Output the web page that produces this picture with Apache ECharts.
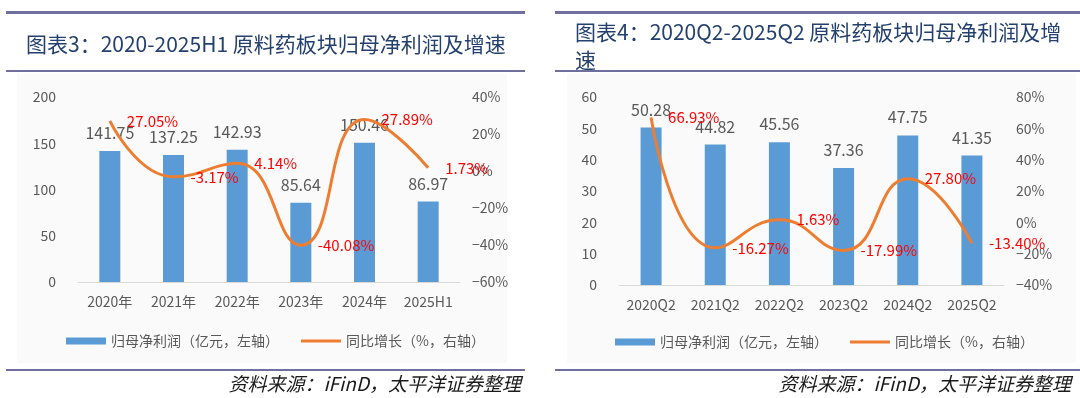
<!DOCTYPE html>
<html><head><meta charset="utf-8">
<script src="https://cdn.jsdelivr.net/npm/echarts@6/dist/echarts.min.js"></script>
<style>
html,body{margin:0;padding:0;background:#fff;}
#c1{position:absolute;left:0;top:0;width:540px;height:398px;}
#c2{position:absolute;left:540px;top:0;width:540px;height:398px;}
</style></head><body>
<div id="c1"></div><div id="c2"></div>
<script>
// ---- data ----
const categories1 = ['2020年', '2021年', '2022年', '2023年', '2024年', '2025H1'];
const profit1 = [141.75, 137.25, 142.93, 85.64, 150.46, 86.97];
const growth1 = [27.05, -3.17, 4.14, -40.08, 27.89, 1.73];

const categories2 = ['2020Q2', '2021Q2', '2022Q2', '2023Q2', '2024Q2', '2025Q2'];
const profit2 = [50.28, 44.82, 45.56, 37.36, 47.75, 41.35];
const growth2 = [66.93, -16.27, 1.63, -17.99, 27.80, -13.40];

const title1 = '图表3：2020-2025H1 原料药板块归母净利润及增速';
const title2 = '图表4：2020Q2-2025Q2 原料药板块归母净利润及增\n速';
const barName = '归母净利润（亿元，左轴）';
const lineName = '同比增长（%，右轴）';
const sourceText = '资料来源：iFinD，太平洋证券整理';

const leftTicks1 = {min: 0, max: 200, interval: 50};
const rightTicks1 = {min: -60, max: 40, interval: 20};
const leftTicks2 = {min: 0, max: 60, interval: 10};
const rightTicks2 = {min: -40, max: 80, interval: 20};

// ---- builder ----
const FONT = '"Noto Sans CJK SC", "Noto Sans", sans-serif';
const RULE = '#6f6f9e';
function pct(v) { return (v < 0 ? '\u2212' + Math.abs(v) : v) + '%'; }

function makeOption(p) {
  return {
    animation: false,
    textStyle: {fontFamily: FONT},
    title: {
      text: p.title, left: p.titleLeft, top: p.titleTop,
      textStyle: {fontFamily: FONT, fontSize: 21, fontWeight: 'normal', color: '#24406e', lineHeight: 28}
    },
    legend: {
      left: p.legendLeft, top: p.legendTop, itemWidth: 40, itemHeight: 7, itemGap: 22,
      textStyle: {fontFamily: FONT, fontSize: 14, color: '#595959'},
      data: [{name: barName, icon: 'rect'}, {name: lineName, icon: 'path://M0,0H40V3H0Z'}]
    },
    grid: {left: p.gridLeft, right: p.gridRight, top: p.gridTop, bottom: p.gridBottom},
    xAxis: {
      type: 'category', data: p.categories,
      axisLine: {lineStyle: {color: '#d9d9d9', width: 1}},
      axisTick: {show: false},
      axisLabel: {color: '#595959', fontSize: 14, margin: 13, interval: 0, fontFamily: FONT}
    },
    yAxis: [
      Object.assign({type: 'value', splitLine: {show: false}, axisLine: {show: false}, axisTick: {show: false},
        axisLabel: {color: '#595959', fontSize: 14, margin: 22, fontFamily: FONT}}, p.leftTicks),
      Object.assign({type: 'value', splitLine: {show: false}, axisLine: {show: false}, axisTick: {show: false},
        axisLabel: {color: '#595959', fontSize: 14, margin: 12, fontFamily: FONT, formatter: pct}}, p.rightTicks)
    ],
    series: [
      {
        name: barName, type: 'bar', data: p.profit, barWidth: 21, z: 1,
        itemStyle: {color: '#5b9bd5'},
        label: {show: true, position: 'top', distance: 10, color: '#595959', fontSize: 16, fontFamily: FONT,
          formatter: d => d.value.toFixed(2)}
      },
      {
        name: lineName, type: 'line', yAxisIndex: 1, data: p.growth, smooth: 0.5, z: 3,
        symbol: 'circle', symbolSize: 0,
        lineStyle: {width: 3, color: '#ed7d31'}, itemStyle: {color: '#ed7d31'},
        label: {show: true, position: 'right', distance: 17, color: '#ff0000', fontSize: 15, fontFamily: FONT,
          formatter: d => d.value.toFixed(2) + '%'}
      }
    ],
    graphic: [
      {type: 'rect', z: -10, shape: {x: p.bgX1, y: 74, width: p.bgX2 - p.bgX1, height: 289}, style: {fill: '#fafafa'}},
      {type: 'line', shape: {x1: p.ruleX1, y1: 12.5, x2: p.ruleX2, y2: 12.5}, style: {stroke: RULE, lineWidth: 3}},
      {type: 'line', shape: {x1: p.ruleX1, y1: 71, x2: p.ruleX2, y2: 71}, style: {stroke: RULE, lineWidth: 2}},
      {type: 'line', shape: {x1: p.ruleX1, y1: 370, x2: p.ruleX2, y2: 370}, style: {stroke: RULE, lineWidth: 2}},
      {type: 'text', style: {text: sourceText, x: p.sourceRight, y: 384, align: 'right', verticalAlign: 'middle',
        fontFamily: FONT, fontSize: 19, fontStyle: 'italic', fill: '#1a1a1a'}}
    ]
  };
}

const chart1 = echarts.init(document.getElementById('c1'), null, {renderer: 'canvas'});
chart1.setOption(makeOption({
  title: title1, titleLeft: 21, titleTop: 25,
  legendLeft: 61, legendTop: 329,
  gridLeft: 78, gridRight: 80, gridTop: 97, gridBottom: 116,
  categories: categories1, profit: profit1, growth: growth1,
  leftTicks: leftTicks1, rightTicks: rightTicks1,
  bgX1: 17, bgX2: 507, ruleX1: 6, ruleX2: 525, sourceRight: 521
}));

const chart2 = echarts.init(document.getElementById('c2'), null, {renderer: 'canvas'});
chart2.setOption(makeOption({
  title: title2, titleLeft: 30, titleTop: 13,
  legendLeft: 70, legendTop: 330,
  gridLeft: 79, gridRight: 76, gridTop: 97, gridBottom: 113,
  categories: categories2, profit: profit2, growth: growth2,
  leftTicks: leftTicks2, rightTicks: rightTicks2,
  bgX1: 27, bgX2: 536, ruleX1: 15, ruleX2: 540, sourceRight: 531
}));
</script>
</body></html>
